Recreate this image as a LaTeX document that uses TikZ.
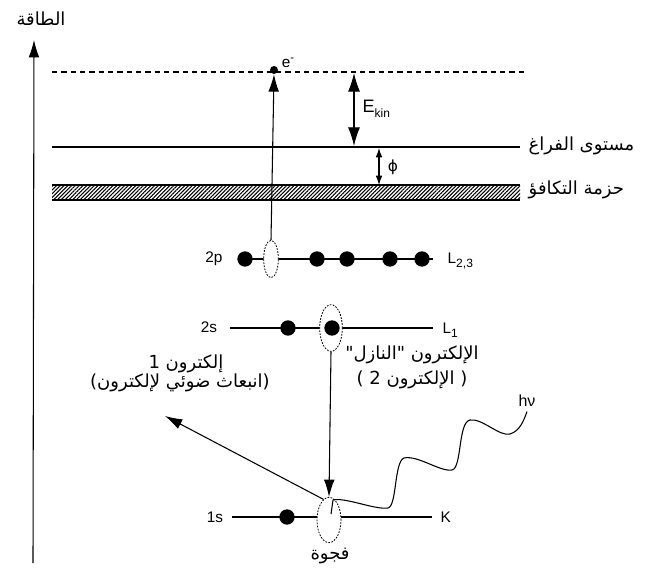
\documentclass[tikz,border=0pt]{standalone}
\usepackage{fontspec}
\setmainfont{Liberation Sans}
\newfontfamily\arabicfont[Script=Arabic]{DejaVu Sans}
\newfontfamily\symfont{DejaVu Sans}
\TeXXeTstate=1
\usetikzlibrary{arrows.meta,patterns.meta,shapes.geometric}
\newcommand\mysub[1]{\raisebox{-0.55ex}{\fontsize{9}{9}\selectfont #1}}
\begin{document}
\begin{tikzpicture}[x=0.75pt,y=-0.75pt,
  lvl/.style={line width=0.9pt},
  dot/.style={circle,fill=black,inner sep=0pt,minimum size=11.5pt},
  hole/.style={ellipse,draw,line width=0.6pt,dash pattern=on 1.3pt off 1pt,fill=white,inner sep=0pt},
  lbl/.style={font=\fontsize{11.5}{13}\selectfont},
  ar/.style={font=\fontsize{13.5}{15}\selectfont\arabicfont},
  arr/.style={-{Latex[length=13pt,width=8pt]},line width=0.8pt},
  darr/.style={{Latex[length=14pt,width=9pt]}-{Latex[length=14pt,width=9pt]},line width=0.8pt},
  sarr/.style={{Latex[length=7pt,width=5pt]}-{Latex[length=7pt,width=5pt]},line width=0.8pt}]
\useasboundingbox (0,0) rectangle (646,574);
% energy axis
\coordinate (axb) at (33,563);
\coordinate (axt) at (34,40);
\draw[arr] (axb) -- (axt);
\node[ar] (energy) at (41,19) {\beginR الطاقة\endR};
% dashed level
\coordinate (dl) at (52,72);
\coordinate (dr) at (525,72);
\draw[line width=0.8pt,dash pattern=on 4pt off 3pt] (dl) -- (dr);
% vacuum level
\coordinate (vl) at (52,147);
\coordinate (vr) at (520,147);
\draw[lvl] (vl) -- (vr);
\node[ar,anchor=west] (vaclbl) at (524,146) {\beginR مستوى الفراغ\endR};
% valence band
\coordinate (bl) at (52,185);
\coordinate (br) at (520,200);
\fill[pattern={Lines[angle=45,distance=2pt,line width=0.8pt]}] (bl) rectangle (br);
\draw[lvl] (52,185) -- (520,185) (52,200) -- (520,200);
\node[ar,anchor=west] (vallbl) at (524,190) {\beginR حزمة التكافؤ\endR};
% level lines
\coordinate (s2p) at (245,259); \coordinate (e2p) at (433,259);
\coordinate (s2s) at (230,328); \coordinate (e2s) at (433,328);
\coordinate (s1s) at (232,517); \coordinate (e1s) at (432,517);
\draw[lvl] (s2p) -- (e2p);
\draw[lvl] (s2s) -- (e2s);
\draw[lvl] (s1s) -- (e1s);
% 2p
\node[lbl] (l2p) at (214,259) {2p};
\node[dot] (p1) at (245,259) {};
\node[hole,minimum width=11pt,minimum height=28pt] (h2p) at (271,259) {};
\node[dot] (p2) at (317,259) {};
\node[dot] (p3) at (347,259) {};
\node[dot] (p4) at (390,259) {};
\node[dot] (p5) at (422,259) {};
\node[lbl,anchor=west] (L23) at (443,261) {L\mysub{2,3}};
% 2s
\node[lbl] (l2s) at (209,327) {2s};
\node[dot] (s1) at (288,328) {};
\node[hole,minimum width=17pt,minimum height=35pt] (h2s) at (331,328) {};
\node[dot] (s2) at (332,328) {};
\node[lbl,anchor=west] (L1) at (438,330) {L\mysub{1}};
% 1s
\node[lbl] (l1s) at (215,517) {1s};
\node[dot] (k1) at (287,517) {};
\node[hole,minimum width=18pt,minimum height=34pt] (h1s) at (329,520) {};
\node[lbl,anchor=west] (Kl) at (436,517) {K};
\node[ar] (gap) at (330,556) {\beginR فجوة\endR};
% photoelectron from 2p
\node[circle,fill=black,inner sep=0pt,minimum size=6pt] (em) at (274,70) {};
\node[lbl] (emlbl) at (288,63) {e\raisebox{0.8ex}{\fontsize{8.5}{8}\selectfont -}};
\draw[arr] (h2p.north) -- (em.south);
% E_kin and phi
\coordinate (ek1) at (354,73);
\coordinate (ek2) at (354,146);
\draw[darr] (ek1) -- (ek2);
\node[font=\fontsize{13.5}{14}\selectfont,anchor=west] (ekin) at (358,109) {E\mysub{kin}};
\coordinate (ph1) at (379,148);
\coordinate (ph2) at (379,185);
\draw[sarr] (ph1) -- (ph2);
\node[font=\fontsize{11.5}{12}\selectfont\symfont] (phi) at (393,167) {ϕ};
% down electron
\draw[arr] (h2s.south) -- (h1s.north);
\node[ar] (down1) at (412,355) {\beginR الإلكترون "النازل"\endR};
\node[ar] (down2) at (412,380) {\beginR( الإلكترون 2 )\endR};
% emitted electron 1
\coordinate (pe) at (165,416);
\draw[arr] (h1s.105) -- (pe);
\node[ar] (pe1) at (186,364) {\beginR إلكترون 1\endR};
\node[ar] (pe2) at (180,383) {\beginR(انبعاث ضوئي لإلكترون)\endR};
% photon
\node[font=\fontsize{12}{13}\selectfont] (hv) at (527,401) {hν};
\draw[line width=0.8pt] (331,514) -- (333,500)
  .. controls (345,497) and (375,510) .. (388,508)
  .. controls (397,506) and (394,462) .. (404,458)
  .. controls (418,455) and (440,472) .. (452,470)
  .. controls (462,468) and (458,422) .. (470,420)
  .. controls (482,418) and (500,437) .. (510,434)
  .. controls (520,431) and (524,420) .. (hv.south);
\end{tikzpicture}
\end{document}
